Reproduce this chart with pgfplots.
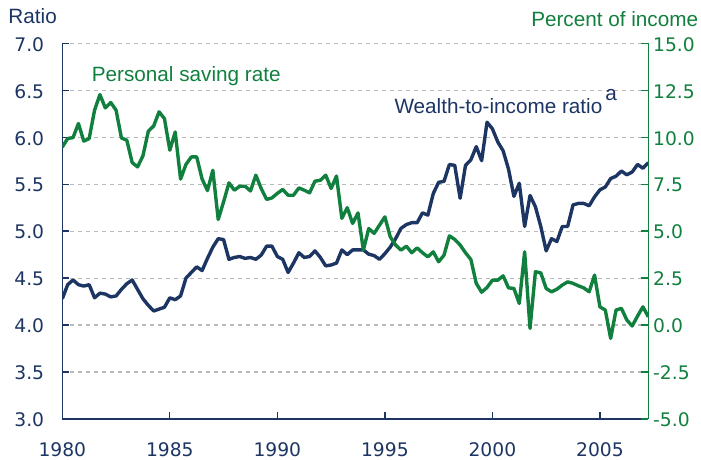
\documentclass[border=0pt]{standalone}
\usepackage{fontspec}
\setmainfont{Liberation Sans}
\newfontfamily\tickfont{DejaVu Sans}
\usepackage{pgfplots}
\usepackage{pgfplotstable}
\pgfplotsset{compat=1.18}

\definecolor{navy}{RGB}{29,53,99}
\definecolor{sgreen}{RGB}{17,128,62}
\definecolor{gridgray}{RGB}{185,185,185}

% quarterly: year, wealth-to-income ratio, personal saving rate (%)
\pgfplotstableread{
t w s
1980.00 4.28 9.48
1980.25 4.43 9.93
1980.50 4.48 9.98
1980.75 4.43 10.73
1981.00 4.415 9.79
1981.25 4.43 9.93
1981.50 4.29 11.44
1981.75 4.34 12.27
1982.00 4.33 11.56
1982.25 4.30 11.85
1982.50 4.31 11.44
1982.75 4.38 9.96
1983.00 4.44 9.84
1983.25 4.48 8.65
1983.50 4.38 8.42
1983.75 4.28 9.01
1984.00 4.21 10.32
1984.25 4.15 10.60
1984.50 4.17 11.35
1984.75 4.19 10.99
1985.00 4.29 9.31
1985.25 4.27 10.28
1985.50 4.31 7.77
1985.75 4.50 8.55
1986.00 4.56 8.95
1986.25 4.62 8.95
1986.50 4.58 7.78
1986.75 4.71 7.16
1987.00 4.83 8.24
1987.25 4.92 5.62
1987.50 4.91 6.56
1987.75 4.70 7.57
1988.00 4.72 7.18
1988.25 4.73 7.39
1988.50 4.71 7.39
1988.75 4.72 7.14
1989.00 4.70 7.98
1989.25 4.745 7.27
1989.50 4.84 6.69
1989.75 4.84 6.77
1990.00 4.73 7.01
1990.25 4.70 7.22
1990.50 4.56 6.91
1990.75 4.66 6.91
1991.00 4.77 7.30
1991.25 4.72 7.18
1991.50 4.73 7.04
1991.75 4.79 7.66
1992.00 4.72 7.71
1992.25 4.63 7.98
1992.50 4.64 7.27
1992.75 4.66 7.93
1993.00 4.80 5.68
1993.25 4.75 6.25
1993.50 4.80 5.41
1993.75 4.80 5.97
1994.00 4.80 3.99
1994.25 4.755 5.14
1994.50 4.74 4.88
1994.75 4.70 5.32
1995.00 4.76 5.76
1995.25 4.83 4.70
1995.50 4.92 4.26
1995.75 5.03 3.99
1996.00 5.07 4.20
1996.25 5.09 3.85
1996.50 5.09 4.11
1996.75 5.195 3.85
1997.00 5.17 3.63
1997.25 5.40 3.90
1997.50 5.52 3.37
1997.75 5.53 3.72
1998.00 5.71 4.75
1998.25 5.70 4.56
1998.50 5.35 4.26
1998.75 5.70 3.85
1999.00 5.76 3.49
1999.25 5.90 2.22
1999.50 5.75 1.75
1999.75 6.16 2.00
2000.00 6.09 2.39
2000.25 5.95 2.39
2000.50 5.855 2.62
2000.75 5.66 1.98
2001.00 5.37 1.95
2001.25 5.51 1.15
2001.50 5.05 3.90
2001.75 5.38 -0.18
2002.00 5.26 2.84
2002.25 5.05 2.78
2002.50 4.79 1.95
2002.75 4.92 1.77
2003.00 4.89 1.91
2003.25 5.05 2.13
2003.50 5.05 2.30
2003.75 5.28 2.22
2004.00 5.295 2.09
2004.25 5.295 1.98
2004.50 5.27 1.77
2004.75 5.365 2.66
2005.00 5.44 0.97
2005.25 5.47 0.80
2005.50 5.56 -0.71
2005.75 5.585 0.80
2006.00 5.64 0.89
2006.25 5.60 0.27
2006.50 5.63 -0.05
2006.75 5.71 0.48
2007.00 5.67 0.97
2007.25 5.73 0.44
}\data

\pgfplotsset{
  both/.style={
    width=586bp, height=375.7bp, scale only axis,
    xmin=1980, xmax=2007.25,
    tick align=inside, major tick length=7bp,
    /pgf/number format/assume math mode=true,
    tick label style={font=\tickfont\fontsize{18.7bp}{22bp}\selectfont, inner sep=0pt},
    yticklabel style={/pgf/number format/fixed, /pgf/number format/fixed zerofill, /pgf/number format/precision=1},
  },
}

\begin{document}
\begin{tikzpicture}
\path[use as bounding box] (-62.3bp,-41bp) rectangle (638.7bp,419bp);

\begin{axis}[both,
    axis y line*=left, axis x line*=bottom,
    ymin=3, ymax=7, ytick={3,3.5,...,7},
    xtick={1980,1985,...,2005},
    xticklabel style={/pgf/number format/1000 sep={}, text=navy, anchor=north, yshift=-23.5bp},
    yticklabel style={text=navy, anchor=east, xshift=-18bp, yshift=-1bp},
    axis line style={navy, line width=1.3bp, -},
    tick style={navy, line width=1.3bp},
    ymajorgrids,
    grid style={gridgray, line width=1.2bp, dash pattern=on 3.5bp off 4.5bp},
]
\addplot[navy, line width=3.4bp, line join=round] table[x=t, y=w] {\data};
\end{axis}

\begin{axis}[both,
    axis y line*=right, axis x line=none,
    ymin=-5, ymax=15, ytick={-5,-2.5,...,15},
    yticklabel style={text=sgreen, anchor=west, xshift=4.7bp, yshift=-1bp},
    axis line style={sgreen, line width=1.3bp, -},
    tick style={sgreen, line width=1.3bp},
]
\addplot[sgreen, line width=3.4bp, line join=round] table[x=t, y=s] {\data};
\end{axis}

\begin{scope}[every node/.style={inner sep=0pt, font=\fontsize{20.7bp}{24bp}\selectfont}]
\node[anchor=base west, text=navy] at (-54bp,395.7bp) {Ratio};
\node[anchor=base east, text=sgreen] at (636bp,392.3bp) {Percent of income};
\node[anchor=base west, text=sgreen] at (29.4bp,337.3bp) {Personal saving rate};
\node[anchor=base west, text=navy] at (332bp,305.7bp) {Wealth-to-income ratio\hspace{3bp}\raisebox{13bp}{a}};
\end{scope}
\end{tikzpicture}
\end{document}
